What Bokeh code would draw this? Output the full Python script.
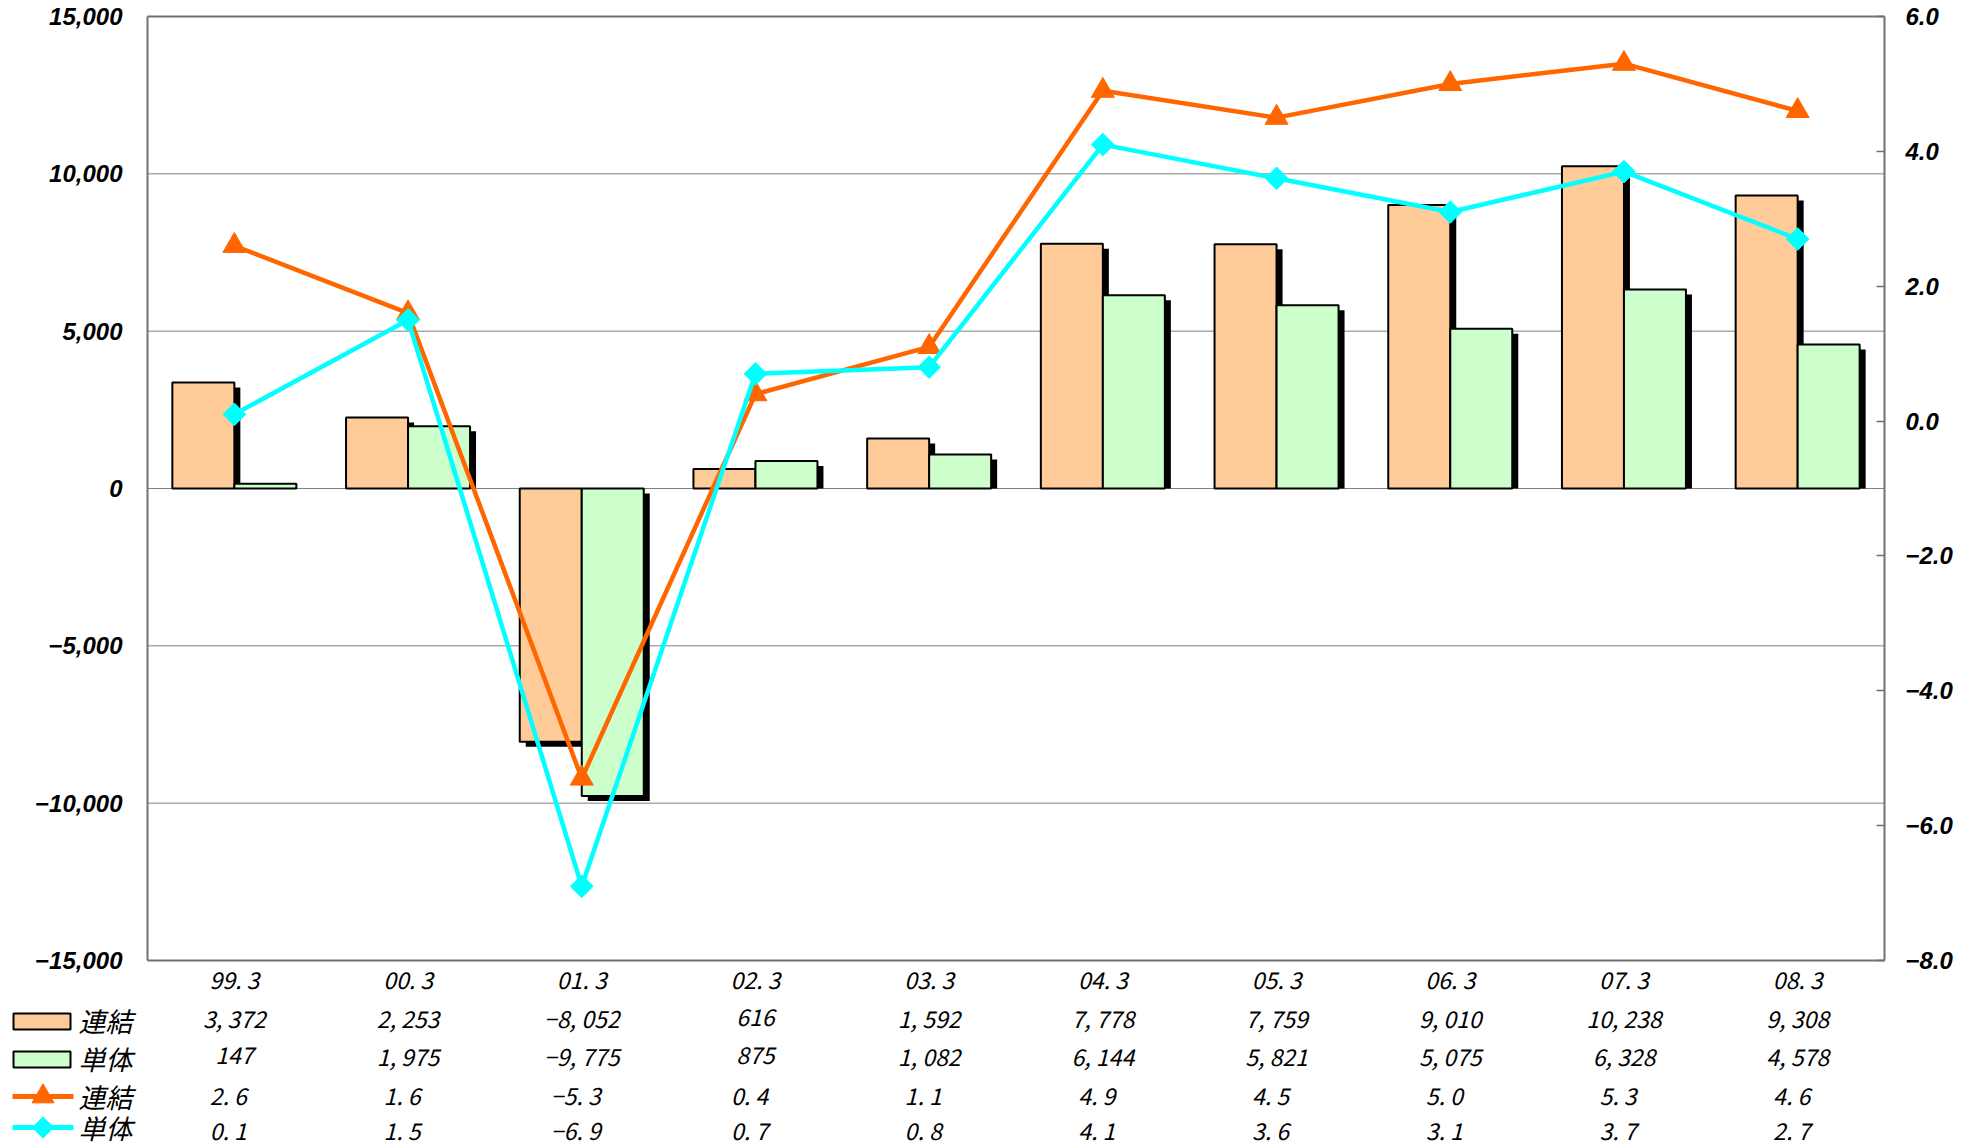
import math
import subprocess
from bokeh.plotting import figure
from bokeh.models import Range1d, LinearAxis, FixedTicker, ColumnDataSource
from bokeh.core.properties import value
from bokeh.embed import file_html
from bokeh.resources import INLINE

# ---------------- data ----------------
categories = ["99. 3", "00. 3", "01. 3", "02. 3", "03. 3",
              "04. 3", "05. 3", "06. 3", "07. 3", "08. 3"]
series_names = ["連結", "単体"]
bars_consolidated = [3372, 2253, -8052, 616, 1592, 7778, 7759, 9010, 10238, 9308]
bars_standalone = [147, 1975, -9775, 875, 1082, 6144, 5821, 5075, 6328, 4578]
ratio_consolidated = [2.6, 1.6, -5.3, 0.4, 1.1, 4.9, 4.5, 5.0, 5.3, 4.6]
ratio_standalone = [0.1, 1.5, -6.9, 0.7, 0.8, 4.1, 3.6, 3.1, 3.7, 2.7]
left_ticks = [-15000, -10000, -5000, 0, 5000, 10000, 15000]
left_tick_labels = ["−15,000", "−10,000", "−5,000", "0", "5,000", "10,000", "15,000"]
right_ticks = [-8, -6, -4, -2, 0, 2, 4, 6]
right_tick_labels = ["−8.0", "−6.0", "−4.0", "−2.0", "0.0", "2.0", "4.0", "6.0"]

# ---------------- style / layout ----------------
ORANGE_FILL = "#FFCC99"
GREEN_FILL = "#CCFFCC"
ORANGE_LINE = "#FF6600"
CYAN_LINE = "#00FFFF"
FRAME_GRAY = "#707070"
GRID_GRAY = "#808080"

try:
    fams = subprocess.run(["fc-list", ":", "family"], capture_output=True, text=True).stdout
except Exception:
    fams = ""
if "Liberation Sans Narrow" in fams:
    NARROW = "Liberation Sans Narrow"
    TABLE_SIZE = "30px"
else:
    NARROW = "Noto Sans CJK JP"
    TABLE_SIZE = "23px"
CJK = "Noto Sans CJK JP"
AXIS_FONT = "Liberation Sans"

W, H = 1982, 1147
PLOT_L, PLOT_R, PLOT_T, PLOT_B = 147, 1884, 16, 960   # plot box in pixels
N = len(categories)
xs = list(range(N))
PX = (PLOT_R - PLOT_L) / N                           # pixels per category
UPX = (left_ticks[-1] - left_ticks[0]) / (PLOT_B - PLOT_T)   # left units per pixel
PPX = (right_ticks[-1] - right_ticks[0]) / (PLOT_B - PLOT_T)  # right units per pixel


def px2x(px):
    return (px - PLOT_L) / PX - 0.5


def py2y(py):
    return left_ticks[-1] - (py - PLOT_T) * UPX


BAR_W = 62 / PX
SH_DX = 6 / PX
SH_DY = 5 * UPX

p = figure(width=W, height=H,
           x_range=Range1d(px2x(0), px2x(W)),
           y_range=Range1d(py2y(H), py2y(0)),
           output_backend="svg", toolbar_location=None,
           x_axis_location=None, y_axis_location=None,
           min_border=0, min_border_left=0, min_border_right=0,
           min_border_top=0, min_border_bottom=0,
           background_fill_color="white", border_fill_color="white")
p.outline_line_color = None
p.grid.visible = False
p.extra_y_ranges = {"pct": Range1d(right_ticks[0] - (H - PLOT_B) * PPX,
                                   right_ticks[-1] + PLOT_T * PPX)}

# gridlines and the top/bottom of the plot box
inner = left_ticks[1:-1]
p.segment(x0=[-0.5] * len(inner), x1=[N - 0.5] * len(inner), y0=inner, y1=inner,
          line_color=GRID_GRAY, line_width=1)
outer = [left_ticks[0], left_ticks[-1]]
p.segment(x0=[-0.5] * 2, x1=[N - 0.5] * 2, y0=outer, y1=outer,
          line_color=FRAME_GRAY, line_width=2)

# left axis
la = LinearAxis(fixed_location=-0.5, bounds=(left_ticks[0], left_ticks[-1]))
la.ticker = FixedTicker(ticks=left_ticks)
la.major_label_overrides = dict(zip(left_ticks, left_tick_labels))
la.axis_line_color = FRAME_GRAY
la.axis_line_width = 2
la.major_tick_in = 0
la.major_tick_out = 0
la.minor_tick_line_color = None
la.major_label_standoff = 25
la.major_label_text_font = AXIS_FONT
la.major_label_text_font_style = "bold italic"
la.major_label_text_font_size = "24px"
la.major_label_text_color = "black"
p.add_layout(la, "left")

# right axis
ra = LinearAxis(y_range_name="pct", fixed_location=N - 0.5,
                bounds=(right_ticks[0], right_ticks[-1]))
ra.ticker = FixedTicker(ticks=right_ticks)
ra.major_label_overrides = dict(zip(right_ticks, right_tick_labels))
ra.axis_line_color = FRAME_GRAY
ra.axis_line_width = 2
ra.major_tick_in = 8
ra.major_tick_out = 0
ra.major_tick_line_color = FRAME_GRAY
ra.major_tick_line_width = 1.5
ra.minor_tick_line_color = None
ra.major_label_standoff = 21
ra.major_label_text_font = AXIS_FONT
ra.major_label_text_font_style = "bold italic"
ra.major_label_text_font_size = "24px"
ra.major_label_text_color = "black"
p.add_layout(ra, "right")


def shadow_source(vals, centers):
    left = [c - BAR_W / 2 + SH_DX for c in centers]
    right = [c + BAR_W / 2 + SH_DX for c in centers]
    top = [v - SH_DY if v > 0 else -SH_DY for v in vals]
    bottom = [0 if v > 0 else v - SH_DY for v in vals]
    top = [max(t, b) for t, b in zip(top, bottom)]
    return ColumnDataSource(dict(left=left, right=right, top=top, bottom=bottom))


cx_o = [x - BAR_W / 2 for x in xs]
cx_g = [x + BAR_W / 2 for x in xs]

for centers, vals, fill in ((cx_o, bars_consolidated, ORANGE_FILL),
                            (cx_g, bars_standalone, GREEN_FILL)):
    p.quad(left="left", right="right", top="top", bottom="bottom",
           source=shadow_source(vals, centers),
           fill_color="black", line_color=None)
    p.vbar(x=centers, width=BAR_W, top=vals, bottom=0,
           fill_color=fill, line_color="black", line_width=2)

# ratio lines on the right axis
p.line(xs, ratio_consolidated, y_range_name="pct", line_color=ORANGE_LINE,
       line_width=4.5, line_join="round")
p.scatter(xs, ratio_consolidated, y_range_name="pct", marker="triangle",
          size=23, fill_color=ORANGE_LINE, line_color=ORANGE_LINE)
p.line(xs, ratio_standalone, y_range_name="pct", line_color=CYAN_LINE,
       line_width=4.5, line_join="round")
p.scatter(xs, ratio_standalone, y_range_name="pct", marker="square",
          angle=math.pi / 4, size=16, fill_color=CYAN_LINE, line_color=CYAN_LINE)

# ---------------- data table below the plot ----------------


def fmt_int(v):
    return f"{v:,}".replace(",", ", ").replace("-", "−")


def fmt_pct(v):
    return f"{v:.1f}".replace(".", ". ").replace("-", "−")


row_py = [978, 1017, 1055, 1094, 1129]
label_py = [None, 1020, 1058, 1096, 1127]
row_texts = [
    categories,
    [fmt_int(v) for v in bars_consolidated],
    [fmt_int(v) for v in bars_standalone],
    [fmt_pct(v) for v in ratio_consolidated],
    [fmt_pct(v) for v in ratio_standalone],
]
row_xoff = [0, 0, 0, -6, -6]
for texts, py, xo in zip(row_texts, row_py, row_xoff):
    p.text(x=xs, y=[py2y(py)] * N, text=texts, x_offset=xo,
           text_font=value(NARROW), text_font_style="italic",
           text_font_size=TABLE_SIZE, text_align="center",
           text_baseline="middle", text_color="black")

# legend keys
for py, fill in zip(label_py[1:3], (ORANGE_FILL, GREEN_FILL)):
    p.quad(left=[px2x(13)], right=[px2x(70)], top=[py2y(py - 7)], bottom=[py2y(py + 9)],
           fill_color=fill, line_color="black", line_width=2)
for py, col in zip(label_py[3:5], (ORANGE_LINE, CYAN_LINE)):
    p.line([px2x(12), px2x(73)], [py2y(py)] * 2, line_color=col, line_width=5)
p.scatter([px2x(42.5)], [py2y(label_py[3])], marker="triangle", size=22,
          fill_color=ORANGE_LINE, line_color=ORANGE_LINE)
p.scatter([px2x(42.5)], [py2y(label_py[4])], marker="square", angle=math.pi / 4,
          size=15, fill_color=CYAN_LINE, line_color=CYAN_LINE)

legend_names = [series_names[0], series_names[1], series_names[0], series_names[1]]
p.text(x=[px2x(78)] * 4, y=[py2y(py) for py in label_py[1:]], text=legend_names,
       text_font=value(CJK), text_font_style="italic", text_font_size="27px",
       text_align="left", text_baseline="middle", text_color="black")

open("out.html", "w").write(file_html(p, INLINE))
